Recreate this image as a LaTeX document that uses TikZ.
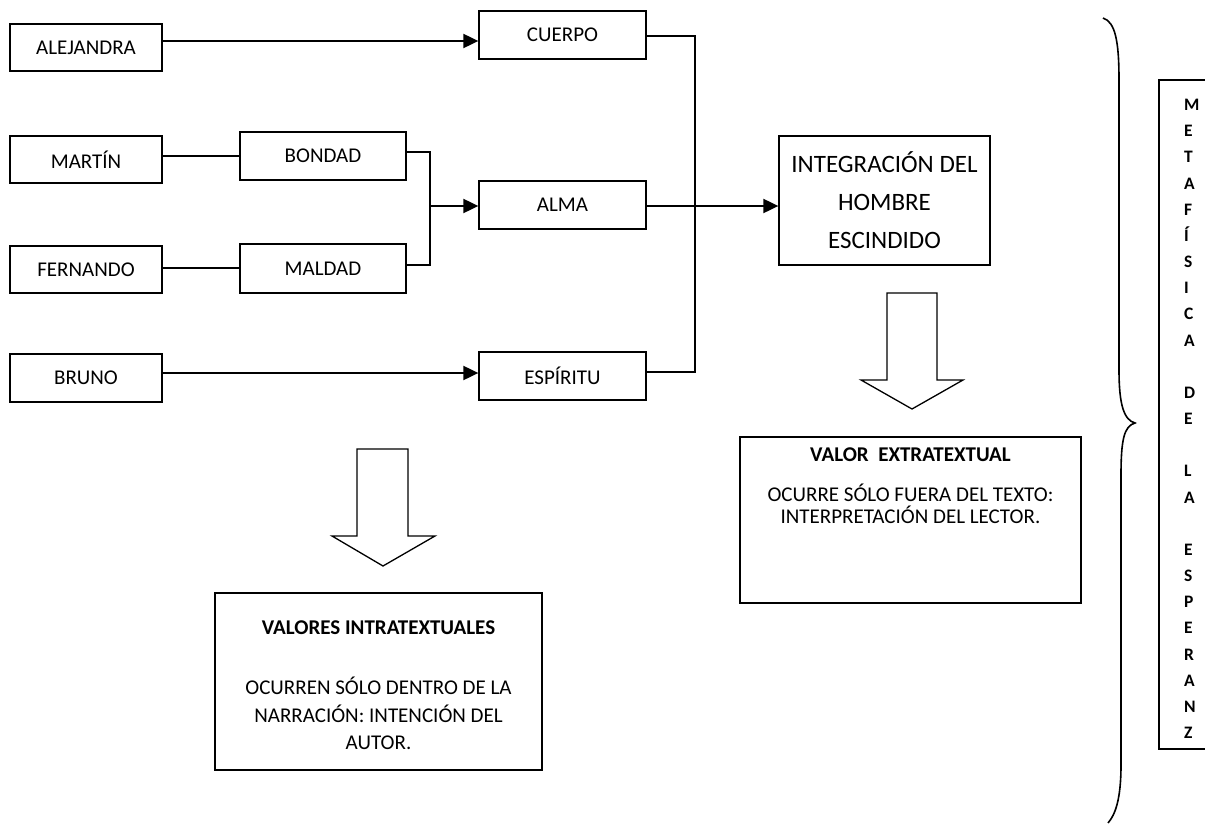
\documentclass[tikz,border=0pt]{standalone}
\usepackage{fontspec}
\setmainfont{Carlito}
\usetikzlibrary{arrows.meta,calc}
\begin{document}
\begin{tikzpicture}[x=1pt,y=-1pt,
  box/.style={draw,line width=1.3pt,inner sep=0pt,align=center,font=\fontsize{21}{25}\selectfont},
  conn/.style={line width=1.4pt},
  arr/.style={line width=2pt,-{Triangle[length=15pt,width=14pt]}},
  blockarrow/.style={draw,line width=1.3pt,fill=white,line join=miter},
  txt/.style={inner sep=0pt,align=center,font=\fontsize{21}{22}\selectfont},
  letters/.style={inner sep=0pt,align=left,font=\bfseries\fontsize{17.5}{26.17}\selectfont},
  brace/.style={line width=1.6pt}]
\useasboundingbox (0,0) rectangle (1205,824);
\clip (0,0) rectangle (1205,824);

% left column
\node[box,minimum width=152pt,minimum height=47pt] (ale) at (86,47.5) {ALEJANDRA};
\node[box,minimum width=152pt,minimum height=47pt] (mar) at (86,159.5) {MARTÍN};
\node[box,minimum width=152pt,minimum height=47pt] (fer) at (86,269.5) {FERNANDO};
\node[box,minimum width=152pt,minimum height=48pt] (bru) at (86,378) {BRUNO};
% middle column
\node[box,minimum width=166pt,minimum height=48pt] (bon) at (323,156) {BONDAD};
\node[box,minimum width=166pt,minimum height=49pt] (mal) at (323,268.5) {MALDAD};
% right column
\node[box,minimum width=167pt,minimum height=48pt] (cue) at (562.5,35) {CUERPO};
\node[box,minimum width=167pt,minimum height=48pt] (alm) at (562.5,205) {ALMA};
\node[box,minimum width=167pt,minimum height=48pt] (esp) at (562.5,376) {ESPÍRITU};
% integration box
\node[box,minimum width=211pt,minimum height=129pt,font=\fontsize{25}{38}\selectfont] (int) at (884.5,200.5) {INTEGRACIÓN DEL\\HOMBRE\\ESCINDIDO};

% connectors
\coordinate (aly) at (0,41);
\draw[arr] (ale.east |- aly) -- (cue.west |- aly);
\coordinate (mly) at (0,156);
\draw[conn] (mar.east |- mly) -- (bon.west |- mly);
\coordinate (fly) at (0,268);
\draw[conn] (fer.east |- fly) -- (mal.west |- fly);
\coordinate (bly) at (0,373);
\draw[arr] (bru.east |- bly) -- (esp.west |- bly);

\coordinate (bj) at (430,206);
\draw[conn] ($(bon.east)+(0,-4)$) -| (bj) |- ($(mal.east)+(0,-3.5)$);
\draw[arr] (bj) -- (alm.west |- bj);

\coordinate (cj) at (695,206);
\draw[conn] ($(cue.east)+(0,1)$) -| (cj) |- ($(esp.east)+(0,-4)$);
\draw[arr] (alm.east |- cj) -- (int.west |- cj);

% block arrows
\draw[blockarrow] (887,293) -- (937,293) -- (937,380) -- (963,380) -- (912,409) -- (861,380) -- (887,380) -- cycle;
\draw[blockarrow] (357,449) -- (408,449) -- (408,536) -- (435,536) -- (383,566) -- (332,536) -- (357,536) -- cycle;

% value boxes
\node[box,minimum width=341pt,minimum height=166pt] (ext) at (910.5,520) {};
\node[txt,anchor=north] (extt) at (910.5,448) {\textbf{VALOR\ \ EXTRATEXTUAL}\\[18pt]OCURRE SÓLO FUERA DEL TEXTO:\\INTERPRETACIÓN DEL LECTOR.};

\node[box,minimum width=327pt,minimum height=177pt] (intra) at (378.5,681.5) {};
\node[txt,anchor=north,font=\fontsize{21}{27.5}\selectfont] (intrat) at (378.5,621) {\textbf{VALORES INTRATEXTUALES}\\[32.5pt]OCURREN SÓLO DENTRO DE LA\\NARRACIÓN: INTENCIÓN DEL\\AUTOR.};

% brace
\draw[brace] (1103,18) .. controls (1115,22) and (1119,40) .. (1119,80) -- (1119,370)
  .. controls (1119,405) and (1124,420) .. (1135,423)
  .. controls (1124,426) and (1121,440) .. (1121,475) -- (1121,765)
  .. controls (1121,800) and (1115,815) .. (1108,823);

% vertical title box
\draw[line width=1.3pt] (1215,80) -- (1159,80) -- (1159,749) -- (1215,749);
\node[letters,anchor=north west] (meta) at (1184,99) {M\\E\\T\\A\\F\\Í\\S\\I\\C\\A\\ \\D\\E\\ \\L\\A\\ \\E\\S\\P\\E\\R\\A\\N\\Z};
\end{tikzpicture}
\end{document}
